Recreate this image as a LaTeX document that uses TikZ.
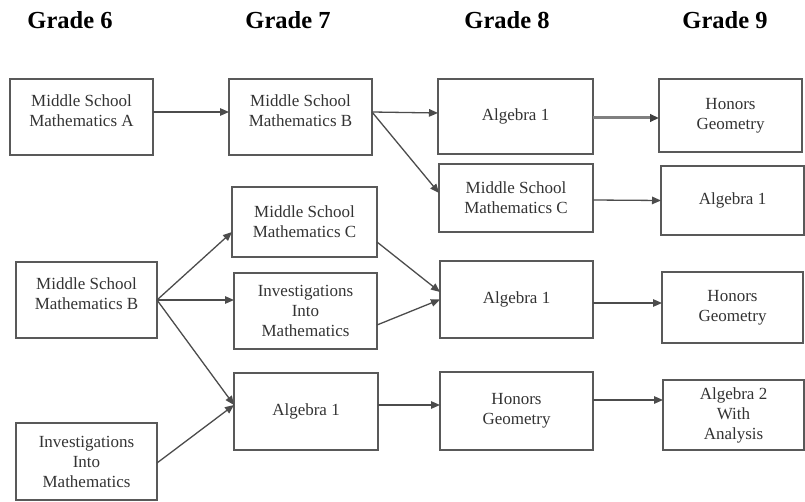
\documentclass[tikz,border=0pt]{standalone}
\usepackage{fontspec}
\setmainfont{Liberation Serif}
\usepackage{tikz}
\usetikzlibrary{arrows.meta}
\usepackage{xcolor}

\begin{document}
\begin{tikzpicture}[
  x=1pt,y=-1pt,
  grade/.style={font=\fontsize{24.5}{29}\selectfont\bfseries},
  course/.style={draw=black!65,line width=1.6pt,rectangle,align=center,inner sep=0pt,
    outer sep=0pt,text=black!80,font=\fontsize{17}{20}\selectfont},
  moveOn/.style={->,>={Triangle[length=9pt,width=7.5pt]},line width=1.3pt,black!70},
  honorsTrack/.style={->,>={Triangle[length=9pt,width=7.5pt,color=black!75]},line width=3pt,black!50}]

  \useasboundingbox (0,0) rectangle (805,502);

  % grade headings
  \node[grade] (hSix) at (70,20) {Grade 6};
  \node[grade] (hSeven) at (288,20) {Grade 7};
  \node[grade] (hEight) at (507,20) {Grade 8};
  \node[grade] (hNine) at (725,20) {Grade 9};

  % grade 6
  \node[course,minimum width=143,minimum height=76] (sixMsmA) at (81.5,117) {Middle School\\Mathematics A\\[-8pt]};
  \node[course,minimum width=141,minimum height=76] (sixMsmB) at (86.5,300) {Middle School\\Mathematics B\\[-8pt]};
  \node[course,minimum width=141,minimum height=77] (sixInv) at (86.5,461.5) {Investigations\\Into\\Mathematics};

  % grade 7
  \node[course,minimum width=143,minimum height=76] (sevenMsmB) at (300.5,117) {Middle School\\Mathematics B\\[-8pt]};
  \node[course,minimum width=145,minimum height=70] (sevenMsmC) at (304.5,222) {Middle School\\Mathematics C};
  \node[course,minimum width=143,minimum height=76] (sevenInv) at (305.5,311) {Investigations\\Into\\Mathematics};
  \node[course,minimum width=144,minimum height=77] (sevenAlg) at (306,411.5) {Algebra 1};

  % grade 8
  \node[course,minimum width=155,minimum height=75] (eightAlgA) at (515.5,116.5) {Algebra 1};
  \node[course,minimum width=154,minimum height=68] (eightMsmC) at (516,198) {Middle School\\Mathematics C};
  \node[course,minimum width=153,minimum height=77] (eightAlgB) at (516.5,299.5) {Algebra 1};
  \node[course,minimum width=153,minimum height=78] (eightGeo) at (516.5,411) {Honors\\Geometry};

  % grade 9
  \node[course,minimum width=143,minimum height=73] (nineGeoA) at (730.5,115.5) {Honors\\Geometry};
  \node[course,minimum width=143,minimum height=69] (nineAlg) at (732.5,200.5) {Algebra 1};
  \node[course,minimum width=141,minimum height=71] (nineGeoB) at (732.5,307.5) {Honors\\Geometry};
  \node[course,minimum width=141,minimum height=70] (nineAlgTwo) at (733.5,415) {Algebra 2\\With\\Analysis};

  % top track
  \draw [moveOn] ([yshift=5]sixMsmA.east) -- ([yshift=5]sevenMsmB.west);
  \draw [moveOn] ([yshift=5]sevenMsmB.east) -- ([yshift=3.5]eightAlgA.west);
  \draw [moveOn] ([yshift=5]sevenMsmB.east) -- ([yshift=5]eightMsmC.west);
  \draw [honorsTrack] ([yshift=-1.5]eightAlgA.east) -- ([yshift=-2.5]nineGeoA.west);
  \draw [moveOn] ([yshift=-2]eightMsmC.east) -- (nineAlg.west);

  % lower tracks
  \draw [moveOn] (sixMsmB.east) -- ([yshift=-10]sevenMsmC.west);
  \draw [moveOn] (sixMsmB.east) -- ([yshift=11]sevenInv.west);
  \draw [moveOn] (sixMsmB.east) -- ([yshift=6.5]sevenAlg.west);
  \draw [moveOn] ([yshift=-1.5]sixInv.east) -- ([yshift=6.5]sevenAlg.west);
  \draw [moveOn] ([yshift=-20]sevenMsmC.east) -- ([yshift=7.5]eightAlgB.west);
  \draw [moveOn] ([yshift=-14]sevenInv.east) -- (eightAlgB.west);
  \draw [moveOn] ([yshift=6.5]sevenAlg.east) -- ([yshift=6]eightGeo.west);
  \draw [moveOn] ([yshift=-3.5]eightAlgB.east) -- ([yshift=4.5]nineGeoB.west);
  \draw [moveOn] ([yshift=11]eightGeo.east) -- ([yshift=15]nineAlgTwo.west);
\end{tikzpicture}
\end{document}
